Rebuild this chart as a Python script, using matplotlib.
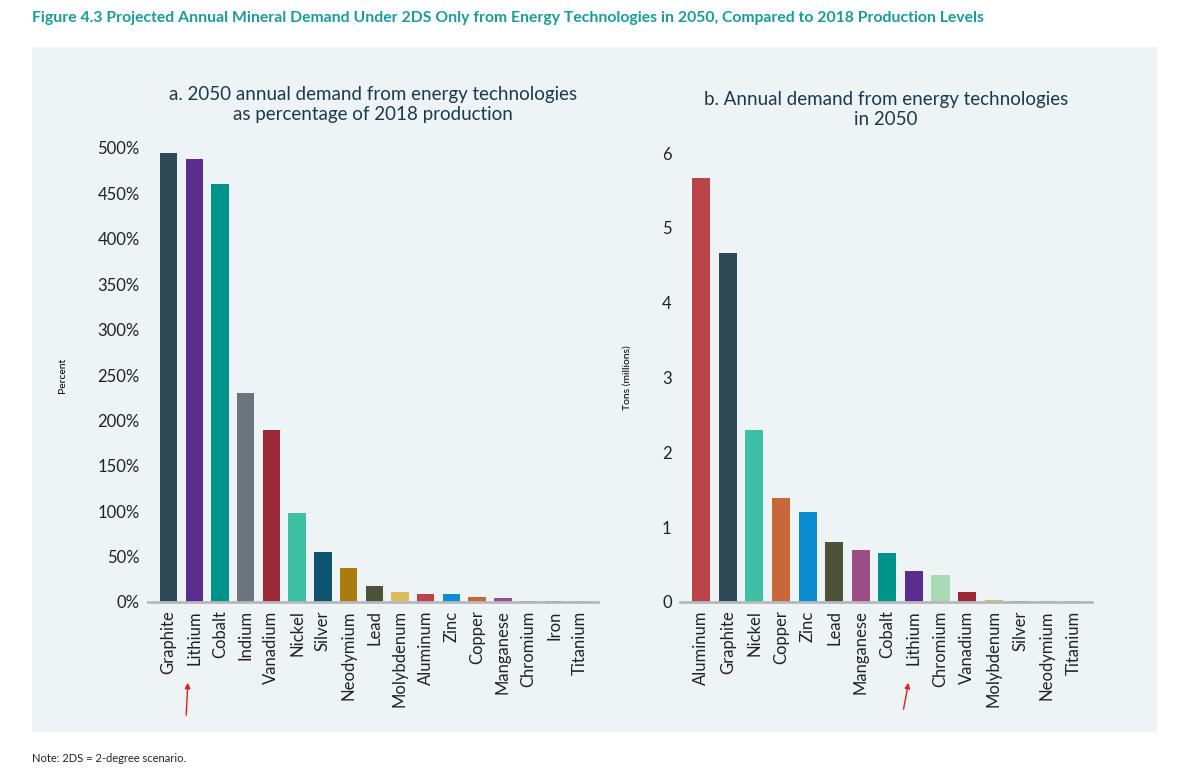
import matplotlib
matplotlib.use("Agg")
import matplotlib.pyplot as plt

plt.rcParams["font.family"] = "Lato"

cats_a = ["Graphite","Lithium","Cobalt","Indium","Vanadium","Nickel","Silver","Neodymium","Lead",
          "Molybdenum","Aluminum","Zinc","Copper","Manganese","Chromium","Iron","Titanium"]
vals_a = [495,488,460,230,189,98,55,37,18,11,9,9,6,4,1,1,1]
cats_b = ["Aluminum","Graphite","Nickel","Copper","Zinc","Lead","Manganese","Cobalt","Lithium",
          "Chromium","Vanadium","Molybdenum","Silver","Neodymium","Titanium"]
vals_b = [5.67,4.67,2.30,1.39,1.20,0.80,0.70,0.66,0.41,0.36,0.13,0.03,0.02,0.01,0.01]
ticks_a = [0,50,100,150,200,250,300,350,400,450,500]
ticks_b = [0,1,2,3,4,5,6]

colors = {"Graphite":"#2e4a57","Lithium":"#5b2c8f","Cobalt":"#00938a","Indium":"#6b767c",
          "Vanadium":"#9b2a35","Nickel":"#3cbfa2","Silver":"#0e5470","Neodymium":"#a87d0e",
          "Lead":"#4c5338","Molybdenum":"#d8bd5a","Aluminum":"#b84447","Zinc":"#0a8ed1",
          "Copper":"#c8683a","Manganese":"#9b4d85","Chromium":"#a8dbb5","Iron":"#3a4a6a",
          "Titanium":"#5a6070"}
colors_a = dict(colors, Chromium="#2f5a78")

W, H = 1189, 768
fig = plt.figure(figsize=(W/100, H/100), dpi=100)
fig.patch.set_facecolor("white")
bg = fig.add_axes([32/W, 1-732/H, (1157-32)/W, (732-47)/H], zorder=-1)
bg.set_facecolor("#eef3f6")
bg.set_xticks([]); bg.set_yticks([])
for s in bg.spines.values():
    s.set_visible(False)

fig.text(32/W, 1-18/H, "Figure 4.3 Projected Annual Mineral Demand Under 2DS Only from Energy Technologies in 2050, Compared to 2018 Production Levels",
         color="#1a9a9a", fontsize=11.3, fontweight="bold", va="center")
fig.text(32/W, 1-758/H, "Note: 2DS = 2-degree scenario.", fontsize=8, color="#222222", va="center")

def setup(ax, cats, vals, cols, ticks, ylim, fmt, ylabel, title):
    ax.set_facecolor("none")
    x = range(len(cats))
    ax.bar(x, vals, width=0.68, color=[cols[c] for c in cats], zorder=2)
    ax.set_xlim(-0.8, len(cats)-0.3)
    ax.set_ylim(0, ylim)
    ax.set_yticks(ticks)
    ax.set_yticklabels([fmt(t) for t in ticks], fontsize=12, color="#222222")
    ax.set_xticks(list(x))
    ax.set_xticklabels(cats, rotation=90, fontsize=12, color="#222222")
    ax.tick_params(length=0, pad=6)
    for s in ["top","right","left"]:
        ax.spines[s].set_visible(False)
    ax.spines["bottom"].set_color("#b5b9bd")
    ax.spines["bottom"].set_linewidth(2)
    ax.set_ylabel(ylabel, fontsize=7.5, labelpad=22)
    ax.set_title(title, fontsize=13.5, color="#1b3a4b", pad=20)

ax1 = fig.add_axes([148/W, 1-602/H, (598-148)/W, (602-148)/H])
setup(ax1, cats_a, vals_a, colors_a, ticks_a, 500, lambda t: f"{t}%", "Percent",
      "a. 2050 annual demand from energy technologies\nas percentage of 2018 production")
ax2 = fig.add_axes([680/W, 1-602/H, (1092-680)/W, (602-153)/H])
setup(ax2, cats_b, vals_b, colors, ticks_b, 6, lambda t: f"{t}", "Tons (millions)",
      "b. Annual demand from energy technologies\nin 2050")

for (x0, y0, x1, y1) in [(186, 718, 188, 680), (903, 712, 909, 680)]:
    fig.add_artist(matplotlib.patches.FancyArrowPatch((x0/W, 1-y0/H), (x1/W, 1-y1/H),
                   transform=fig.transFigure, arrowstyle="-|>", mutation_scale=8, color="#e02020", lw=1))

fig.savefig("out.png", dpi=100)
